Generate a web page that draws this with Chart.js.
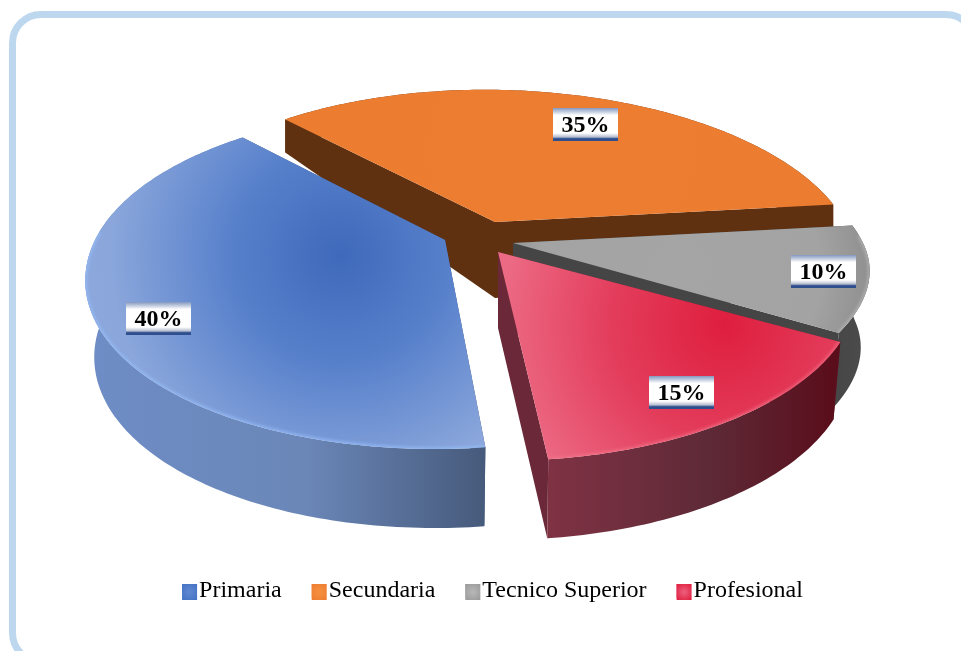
<!DOCTYPE html>
<html>
<head>
<meta charset="utf-8">
<script src="https://cdn.jsdelivr.net/npm/chart.js@4"></script>
<style>
html,body{margin:0;padding:0;background:#fff;width:961px;height:651px;overflow:hidden}
#frame{position:absolute;left:9px;top:11px;width:969px;height:654px;border:7px solid #BDD7EE;border-radius:32px;box-sizing:border-box}
#c{position:absolute;left:0;top:0}
</style>
</head>
<body>
<div id="frame"></div>
<canvas id="c" width="961" height="651"></canvas>
<script>
const categories = ["Primaria", "Secundaria", "Tecnico Superior", "Profesional"];
const shares = [40, 35, 10, 15];
const percentLabels = ["40%", "35%", "10%", "15%"];
const baseColors = ["#4472C4", "#ED7D31", "#A5A5A5", "#E0233F"];

// Projection of the flat pie onto the tilted view
const VIEW = {rx: 350, ry: 162, persp: 0.225, wall: 76, wallNear: 3};
// Per-slice looks, indexed like categories
const LOOK = [
  {ax: 445, ay: 240, nearSkew: -10, farSkew: 0, inset: 0.975, stops: [[0,"#3F69BA"],[0.4,"#5780CB"],[0.85,"#8AA6DB"],[1,"#8DA8DD"]], glow: [340,255,270],
   wall: ["#6E8DC6","#6B87B8","#465A7B"], cut: "#3F5378", rim: "rgba(150,190,250,0.7)", lx:-2, ly:19, box:["#5E86D0","#4472C4"]},
  {ax: 495, ay: 222, nearSkew: 0, farSkew: 10, inset: 1, stops: [[0,"#ED7D31"],[1,"#EC7C30"]], glow: [560,150,300],
   wall: ["#5F3110","#5F3110","#5F3110"], cut: "#5F3110", rim: null, lx:12, ly:9, box:["#F58F40","#ED7D31"]},
  {ax: 513, ay: 243, nearSkew: -68, farSkew: 0, inset: 0.975, stops: [[0,"#A5A5A5"],[0.7,"#A3A3A3"],[1,"#8C8C8C"]], glow: [680,270,200],
   wall: ["#474747","#4A4A4A","#4A4A4A"], cut: "#454545", rim: "rgba(190,190,190,0.6)", lx:20, ly:1, box:["#B5B5B5","#9A9A9A"]},
  {ax: 498, ay: 252, nearSkew: 0, farSkew: 0, inset: 0.98, stops: [[0,"#DF1E3E"],[0.5,"#E33C5B"],[1,"#EC6A84"]], glow: [725,325,225],
   wall: ["#7F3244","#5E2A37","#5A0C1A"], cut: "#6A2838", rim: "rgba(245,120,140,0.6)", lx:-3, ly:9, box:["#EC5A78","#DF1E3E"]}
];
const PAINT_ORDER = [1, 2, 0, 3];

function project(i, r, a, bottom) {
  const L = LOOK[i], u = r * Math.cos(a), v = r * Math.sin(a);
  const w = 1 / (1 - VIEW.persp * v);
  let x = VIEW.rx * u * w + (v > 0 ? L.nearSkew * v * v : L.farSkew * v), y = VIEW.ry * v * w;
  if (bottom) {
    x *= L.inset;
    y += v >= 0 ? VIEW.wall + VIEW.wallNear * v : Math.max(VIEW.wall + v * 58, 20);
  }
  return [L.ax + x, L.ay + y];
}
function arcPts(i, a0, a1, bottom) {
  const pts = [], n = Math.max(8, Math.ceil((a1 - a0) * 60));
  for (let k = 0; k <= n; k++) pts.push(project(i, 1, a0 + (a1 - a0) * k / n, bottom));
  return pts;
}
function poly(ctx, pts) {
  ctx.beginPath();
  pts.forEach((p, k) => k ? ctx.lineTo(p[0], p[1]) : ctx.moveTo(p[0], p[1]));
  ctx.closePath();
}
function drawSlice(ctx, i, arc) {
  const L = LOOK[i], a0 = arc.startAngle, a1 = arc.endAngle;
  const topArc = arcPts(i, a0, a1, false), botArc = arcPts(i, a0, a1, true);
  const apexT = project(i, 0, 0, false), apexB = project(i, 0, 0, true);
  ctx.fillStyle = L.cut;
  poly(ctx, [apexT, topArc[0], botArc[0], apexB]); ctx.fill();
  poly(ctx, [apexT, topArc[topArc.length - 1], botArc[botArc.length - 1], apexB]); ctx.fill();
  const xs = topArc.map(p => p[0]);
  const g = ctx.createLinearGradient(Math.min(...xs), 0, Math.max(...xs), 0);
  g.addColorStop(0, L.wall[0]); g.addColorStop(0.55, L.wall[1]); g.addColorStop(1, L.wall[2]);
  ctx.fillStyle = g;
  poly(ctx, topArc.concat(botArc.slice().reverse())); ctx.fill();
  const top = [apexT].concat(topArc);
  const rg = ctx.createRadialGradient(L.glow[0], L.glow[1], 0, L.glow[0], L.glow[1], L.glow[2]);
  L.stops.forEach(s => rg.addColorStop(s[0], s[1]));
  ctx.fillStyle = rg;
  poly(ctx, top); ctx.fill();
  if (L.rim) {
    ctx.save();
    poly(ctx, top); ctx.clip();
    ctx.beginPath();
    const n = topArc.length - 1;
    let started = false;
    topArc.forEach((p, k) => {
      if (Math.sin(a0 + (a1 - a0) * k / n) < -0.05) return;
      if (started) ctx.lineTo(p[0], p[1]); else { ctx.moveTo(p[0], p[1]); started = true; }
    });
    ctx.strokeStyle = L.rim; ctx.lineWidth = 4; ctx.filter = "blur(1.5px)"; ctx.stroke();
    ctx.restore();
  }
}
function drawTag(ctx, text, cx, cy) {
  const W = 65, H = 33, x = Math.round(cx - W / 2), y = Math.round(cy - H / 2);
  const g = ctx.createLinearGradient(0, y, 0, y + H);
  g.addColorStop(0, "#8397BE"); g.addColorStop(0.22, "#FFFFFF");
  g.addColorStop(0.76, "#FFFFFF"); g.addColorStop(0.88, "#B4BCCF");
  g.addColorStop(0.93, "#2F4E8E"); g.addColorStop(1, "#2F4E8E");
  ctx.fillStyle = g; ctx.fillRect(x, y, W, H);
  ctx.fillStyle = "#000";
  ctx.font = "bold 24px 'Liberation Serif'";
  ctx.textAlign = "center"; ctx.textBaseline = "middle";
  ctx.fillText(text, x + W / 2, y + H / 2 + 1);
}
const pie3d = {
  id: "pie3d",
  beforeDatasetDraw(chart, args) {
    const ctx = chart.ctx, arcs = chart.getDatasetMeta(args.index).data;
    PAINT_ORDER.forEach(i => drawSlice(ctx, i, arcs[i]));
    PAINT_ORDER.forEach(i => {
      const a = (arcs[i].startAngle + arcs[i].endAngle) / 2, p = project(i, 0.82, a, false);
      drawTag(ctx, percentLabels[i], p[0] + LOOK[i].lx, p[1] + LOOK[i].ly);
    });
    return false;
  },
  afterDraw(chart) {
    const ctx = chart.ctx, boxes = chart.legend.legendHitBoxes;
    boxes.forEach((b, i) => {
      const W = 15, H = 16, x = b.left, y = b.top + (b.height - H) / 2 + 1;
      const g = ctx.createRadialGradient(x + W / 2, y + H / 2, 1, x + W / 2, y + H / 2, W * 0.7);
      g.addColorStop(0, LOOK[i].box[0]);
      g.addColorStop(1, LOOK[i].box[1]);
      ctx.fillStyle = g; ctx.fillRect(x, y, W, H);
    });
  }
};
new Chart(document.getElementById("c"), {
  type: "pie",
  data: {labels: categories, datasets: [{data: shares, backgroundColor: baseColors, borderWidth: 0}]},
  plugins: [pie3d],
  options: {
    responsive: false, animation: false, rotation: 173.6,
    layout: {padding: {left: 24, bottom: 38}},
    plugins: {
      tooltip: {enabled: false},
      legend: {position: "bottom", labels: {
        boxWidth: 5, boxHeight: 14, padding: 30, color: "#000",
        font: {family: "'Liberation Serif'", size: 24}
      }}
    }
  }
});
</script>
</body>
</html>
